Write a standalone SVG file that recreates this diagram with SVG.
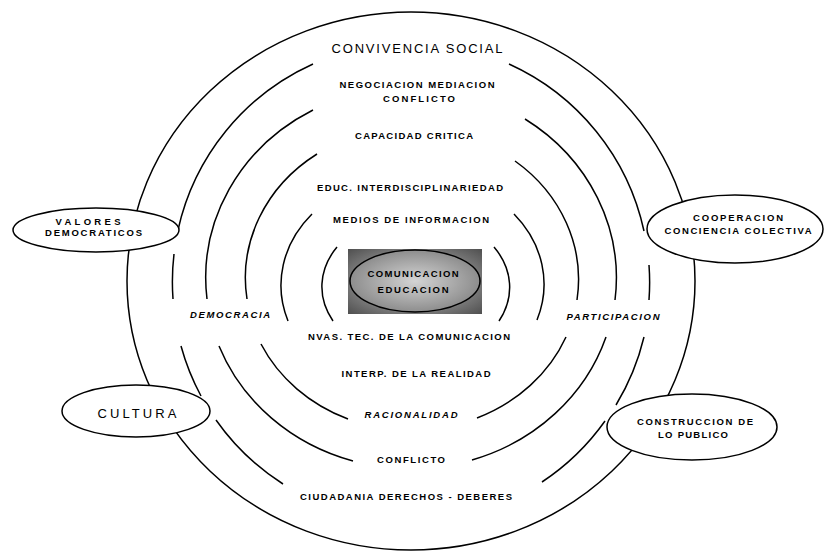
<svg xmlns="http://www.w3.org/2000/svg" width="824" height="553" viewBox="0 0 824 553">
<style>
.ln{fill:none;stroke:#000;stroke-width:1.5}
.nd{fill:#fff;stroke:#000;stroke-width:1.5}
text{font-family:"Liberation Sans",Arial,sans-serif;font-weight:bold;font-size:9.5px;text-anchor:middle;fill:#000}
.it{font-style:italic}
.big{font-weight:normal;font-size:13px}
</style>
<defs>
<radialGradient id="gBox" cx="50%" cy="50%" r="70%">
<stop offset="0" stop-color="#cfcfcf"/>
<stop offset="1" stop-color="#505050"/>
</radialGradient>
<radialGradient id="gEll" cx="50%" cy="50%" r="55%">
<stop offset="0" stop-color="#d4d4d4"/>
<stop offset="1" stop-color="#868686"/>
</radialGradient>
</defs>
<rect width="824" height="553" fill="#fff"/>
<g id="connectors">
<ellipse class="ln" cx="411" cy="281" rx="284" ry="269"/>
<path class="ln" d="M313,64 A239,239 0 0 0 178,230 M174,254 A239,239 0 0 0 173,299 M181,346 A239,239 0 0 0 201,396 M216,420 A239,239 0 0 0 283,484"/>
<path class="ln" d="M509,64 A239,239 0 0 1 644,231 M649,265 A239,239 0 0 1 649,300 M644,337 A239,239 0 0 1 616,405 M605,421 A239,239 0 0 1 542,482"/>
<path class="ln" d="M313,110 A205,191 0 0 0 207,299 M219,346 A205,191 0 0 0 353,461 M525,119 A205,191 0 0 1 615,300 M606,337 A205,191 0 0 1 472,460"/>
<path class="ln" d="M317,154 A167,151 0 0 0 247,299 M261,344 A167,151 0 0 0 348,419 M515,161 A167,151 0 0 1 577,300 M566,337 A167,151 0 0 1 477,418"/>
<path class="ln" d="M312,214 A130,110 0 0 0 288,321 M514,214 A130,110 0 0 1 537,320"/>
<path class="ln" d="M337,247 A100,75 0 0 0 333,321 M494,247 A100,75 0 0 1 499,321"/>
</g>
<g id="node-comunicacion">
<rect x="348" y="249" width="134" height="65" fill="url(#gBox)"/>
<ellipse cx="415" cy="281" rx="65" ry="31" fill="url(#gEll)" stroke="#000" stroke-width="1.5"/>
<text x="413" y="276.5" textLength="91" lengthAdjust="spacing">COMUNICACION</text>
<text x="413" y="293" textLength="71" lengthAdjust="spacing">EDUCACION</text>
</g>
<g id="node-valores">
<ellipse class="nd" cx="96" cy="230" rx="83" ry="22"/>
<text x="88" y="225.3" textLength="65" lengthAdjust="spacing">VALORES</text>
<text x="93.5" y="236.3" textLength="97" lengthAdjust="spacing">DEMOCRATICOS</text>
</g>
<g id="node-cooperacion">
<ellipse class="nd" cx="735" cy="229" rx="88" ry="34"/>
<text x="738" y="221.3" textLength="90" lengthAdjust="spacing">COOPERACION</text>
<text x="738" y="234.3" textLength="147" lengthAdjust="spacing">CONCIENCIA COLECTIVA</text>
</g>
<g id="node-cultura">
<ellipse class="nd" cx="136" cy="411" rx="74" ry="26"/>
<text class="big" x="137" y="417.7" textLength="79" lengthAdjust="spacing">CULTURA</text>
</g>
<g id="node-construccion">
<ellipse class="nd" cx="692" cy="427" rx="85" ry="33"/>
<text x="695" y="425.3" textLength="116" lengthAdjust="spacing">CONSTRUCCION DE</text>
<text x="693" y="438.3" textLength="70" lengthAdjust="spacing">LO PUBLICO</text>
</g>
<g id="labels">
<text class="big" x="417" y="52.7" textLength="171" lengthAdjust="spacing">CONVIVENCIA SOCIAL</text>
<text x="417" y="88.3" textLength="155" lengthAdjust="spacing">NEGOCIACION MEDIACION</text>
<text x="419" y="102.3" textLength="72" lengthAdjust="spacing">CONFLICTO</text>
<text x="414" y="139.3" textLength="118" lengthAdjust="spacing">CAPACIDAD CRITICA</text>
<text x="410" y="191.3" textLength="186" lengthAdjust="spacing">EDUC. INTERDISCIPLINARIEDAD</text>
<text x="411" y="223.3" textLength="156" lengthAdjust="spacing">MEDIOS DE INFORMACION</text>
<text class="it" x="230" y="318.3" textLength="80" lengthAdjust="spacing">DEMOCRACIA</text>
<text class="it" x="613" y="320.3" textLength="93" lengthAdjust="spacing">PARTICIPACION</text>
<text x="409" y="340.3" textLength="202" lengthAdjust="spacing">NVAS. TEC. DE LA COMUNICACION</text>
<text x="416" y="377.3" textLength="149" lengthAdjust="spacing">INTERP. DE LA REALIDAD</text>
<text class="it" x="411" y="418.3" textLength="93" lengthAdjust="spacing">RACIONALIDAD</text>
<text x="411" y="463.3" textLength="68" lengthAdjust="spacing">CONFLICTO</text>
<text x="406" y="500.3" textLength="212" lengthAdjust="spacing">CIUDADANIA DERECHOS - DEBERES</text>
</g>
</svg>
